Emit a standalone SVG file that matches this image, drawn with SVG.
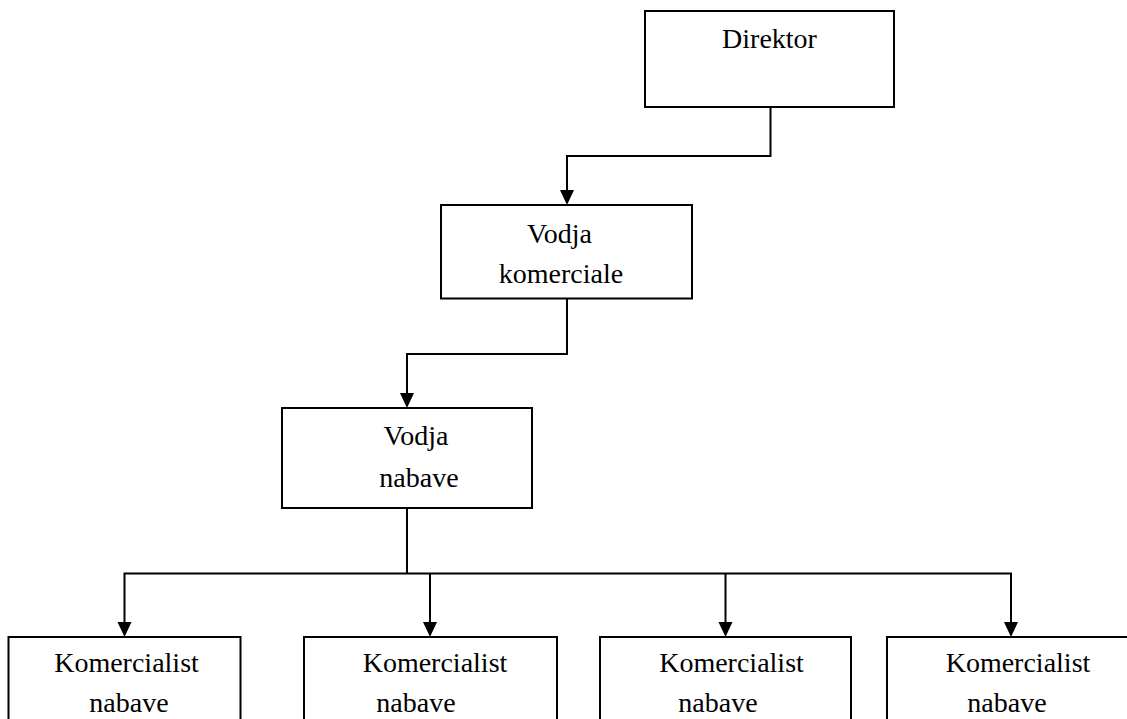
<svg xmlns="http://www.w3.org/2000/svg" width="1127" height="719" viewBox="0 0 1127 719">
<style>
.box{fill:#fff;stroke:#000;stroke-width:2}
.lbl{font-family:"Liberation Serif","Times New Roman",serif;font-size:28px;fill:#000;text-anchor:middle}
.con{fill:none;stroke:#000;stroke-width:2}
</style>
<defs>
<marker id="ah" viewBox="0 0 14 15" refX="7" refY="15" markerWidth="14" markerHeight="15" markerUnits="userSpaceOnUse" orient="auto-start-reverse">
<path d="M0 0 L14 0 L7 15 Z" fill="#000"/>
</marker>
</defs>
<rect width="1127" height="719" fill="#fff"/>
<g id="connectors">
<path class="con" d="M770.5 107 V156 H567 V190"/>
<path d="M560 190 L574 190 L567 205 Z" fill="#000"/>
<path class="con" d="M567 298 V354 H407 V393"/>
<path d="M400 393 L414 393 L407 408 Z" fill="#000"/>
<path class="con" d="M407 508 V573.5"/>
<path class="con" d="M124.5 622 V573.5 H1011 V622"/>
<path class="con" d="M430 573.5 V622"/>
<path class="con" d="M725.5 573.5 V622"/>
<path d="M117.5 622 L131.5 622 L124.5 637 Z" fill="#000"/>
<path d="M423 622 L437 622 L430 637 Z" fill="#000"/>
<path d="M718.5 622 L732.5 622 L725.5 637 Z" fill="#000"/>
<path d="M1004 622 L1018 622 L1011 637 Z" fill="#000"/>
</g>
<g id="direktor">
<rect class="box" x="645" y="11" width="249" height="96"/>
<text class="lbl" x="769.5" y="48">Direktor</text>
</g>
<g id="vodja-komerciale">
<rect class="box" x="441" y="205" width="251" height="93.5"/>
<text class="lbl" x="559.5" y="243">Vodja</text>
<text class="lbl" x="561" y="283">komerciale</text>
</g>
<g id="vodja-nabave">
<rect class="box" x="282" y="408" width="250" height="100"/>
<text class="lbl" x="416" y="445">Vodja</text>
<text class="lbl" x="419" y="487">nabave</text>
</g>
<g id="komercialist-1">
<rect class="box" x="8.5" y="637" width="232" height="100"/>
<text class="lbl" x="126.5" y="672">Komercialist</text>
<text class="lbl" x="129" y="712">nabave</text>
</g>
<g id="komercialist-2">
<rect class="box" x="304" y="637" width="253" height="100"/>
<text class="lbl" x="435" y="672">Komercialist</text>
<text class="lbl" x="416" y="712">nabave</text>
</g>
<g id="komercialist-3">
<rect class="box" x="600" y="637" width="251" height="100"/>
<text class="lbl" x="731.5" y="672">Komercialist</text>
<text class="lbl" x="718" y="712">nabave</text>
</g>
<g id="komercialist-4">
<rect class="box" x="887" y="637" width="270" height="100"/>
<text class="lbl" x="1018" y="672">Komercialist</text>
<text class="lbl" x="1007" y="712">nabave</text>
</g>
</svg>
